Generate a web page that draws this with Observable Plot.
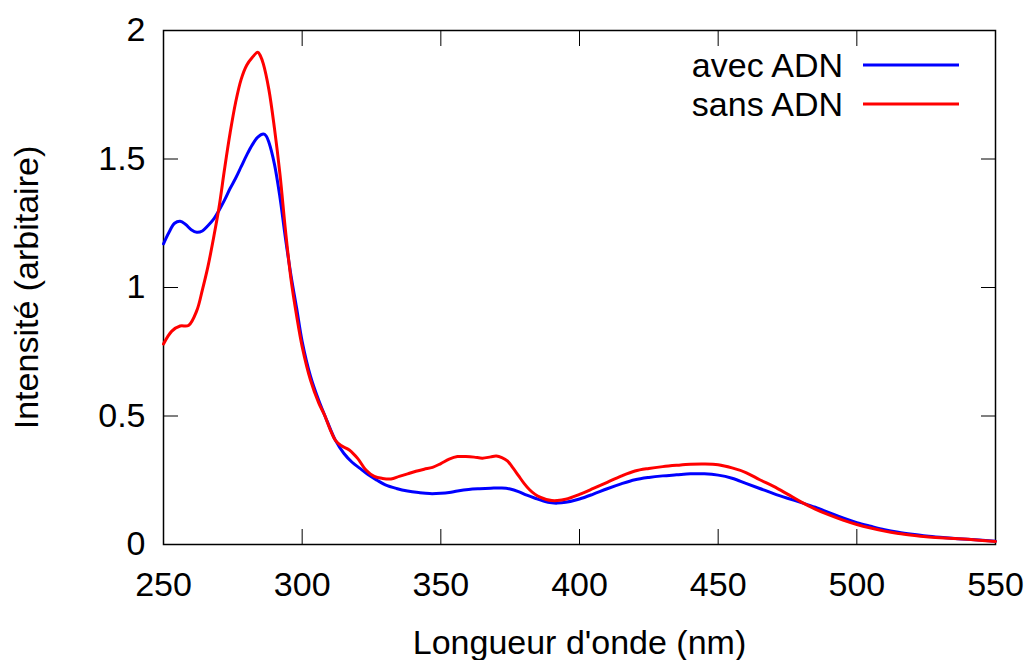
<!DOCTYPE html>
<html><head><meta charset="utf-8">
<script src="https://cdn.jsdelivr.net/npm/d3@7"></script>
<script src="https://cdn.jsdelivr.net/npm/@observablehq/plot@0.6"></script>
<style>
html,body{margin:0;padding:0;background:#fff;}
</style>
</head><body><div id="chart"></div>
<script>
// Wavelengths (nm) and intensities
const wlAvec = [250,252,254,256,258,260,262,264,266,268,270,272,274,276,278,280,282,284,286,287,288,290,292,294,296,298,300,303,306,309,312,315,318,321,324,327,330,334,338,342,346,350,353,356,360,364,368,372,375,378,381,384,387,390,392,395,400,405,410,415,420,425,430,435,440,445,450,455,460,465,470,475,480,485,490,495,500,505,510,515,520,525,530,540,550];
const avec = [1.17,1.215,1.25,1.258,1.245,1.225,1.215,1.22,1.24,1.265,1.30,1.34,1.385,1.425,1.47,1.515,1.555,1.585,1.597,1.59,1.565,1.48,1.35,1.19,1.045,0.92,0.79,0.655,0.56,0.48,0.405,0.355,0.32,0.295,0.27,0.25,0.232,0.218,0.208,0.202,0.198,0.199,0.202,0.208,0.214,0.217,0.219,0.220,0.216,0.206,0.192,0.18,0.169,0.162,0.161,0.164,0.177,0.196,0.217,0.236,0.252,0.261,0.267,0.271,0.275,0.275,0.270,0.258,0.238,0.218,0.198,0.180,0.163,0.145,0.124,0.103,0.085,0.071,0.058,0.048,0.040,0.033,0.028,0.020,0.013];

const wlSans = [250,253,256,259,262,264,266,268,270,272,274,276,278,280,282,284,285,286,288,290,292,294,296,298,300,303,306,308,310,312,314,317,320,323,326,329,332,335,338,341,344,347,350,353,356,359,362,365,368,370,372,374,376,378,380,382,384,386,388,390,392,395,400,405,410,415,420,425,430,435,440,445,450,455,460,465,470,475,480,485,490,495,500,505,510,515,520,525,530,540,550];
const sans = [0.78,0.83,0.85,0.852,0.91,0.99,1.08,1.19,1.31,1.46,1.60,1.72,1.81,1.865,1.895,1.915,1.90,1.87,1.77,1.62,1.44,1.22,1.03,0.89,0.77,0.64,0.55,0.505,0.45,0.405,0.385,0.368,0.335,0.29,0.265,0.257,0.255,0.265,0.275,0.285,0.293,0.300,0.315,0.332,0.342,0.342,0.340,0.336,0.341,0.344,0.338,0.325,0.298,0.268,0.238,0.213,0.195,0.183,0.175,0.171,0.171,0.176,0.195,0.218,0.242,0.266,0.286,0.296,0.303,0.308,0.312,0.313,0.310,0.298,0.280,0.252,0.226,0.196,0.165,0.138,0.115,0.095,0.078,0.064,0.052,0.043,0.036,0.030,0.026,0.020,0.012];

const xTicks = [250,300,350,400,450,500,550];
const yTicks = [0,0.5,1,1.5,2];
const seriesNames = ["avec ADN","sans ADN"];
const seriesColors = ["#0000ff","#ff0000"];
const xLabel = "Longueur d'onde (nm)";
const yLabel = "Intensité (arbitaire)";

const avecData = wlAvec.map((w,i)=>({wl:w, v:avec[i]}));
const sansData = wlSans.map((w,i)=>({wl:w, v:sans[i]}));
const FONT = "'Liberation Sans', Arial, sans-serif";

const plot = Plot.plot({
  width: 1028, height: 660,
  marginLeft: 163, marginRight: 33, marginTop: 30, marginBottom: 116,
  style: {fontFamily: FONT, fontSize: "34px", background: "#fff", color: "#000"},
  x: {domain: [250, 550]},
  y: {domain: [0, 2]},
  marks: [
    Plot.axisX({anchor: "bottom", ticks: xTicks, tickSize: -15, fill: "none", label: null}),
    Plot.axisX({anchor: "top", ticks: xTicks, tickSize: -15, fill: "none", label: null}),
    Plot.axisY({anchor: "left", ticks: yTicks, tickSize: -15, fill: "none", label: null}),
    Plot.axisY({anchor: "right", ticks: yTicks, tickSize: -15, fill: "none", label: null}),
    Plot.frame({stroke: "#000", strokeWidth: 1.5}),
    Plot.line(avecData, {x: "wl", y: "v", stroke: seriesColors[0], strokeWidth: 3, curve: "catmull-rom"}),
    Plot.line(sansData, {x: "wl", y: "v", stroke: seriesColors[1], strokeWidth: 3, curve: "catmull-rom"}),
    Plot.axisX({anchor: "bottom", ticks: xTicks, tickSize: 0, tickPadding: 27, tickFormat: d => String(d),
      label: xLabel, labelAnchor: "center", labelArrow: "none", labelOffset: 109}),
    Plot.axisY({anchor: "left", ticks: yTicks, tickSize: 0, tickPadding: 18, tickFormat: d => String(d),
      label: yLabel, labelAnchor: "center", labelArrow: "none", labelOffset: 150})
  ]
});
document.getElementById("chart").appendChild(plot);

// Legend inside the plot (top right), gnuplot style
const svg = d3.select(plot);
const lg = svg.append("g").attr("font-family", FONT).attr("font-size", 34);
seriesNames.forEach((name, i) => {
  lg.append("text").attr("x", 843).attr("y", 77 + i * 39).attr("text-anchor", "end").attr("fill", "#000").text(name);
  lg.append("line").attr("x1", 863).attr("x2", 959).attr("y1", 65 + i * 39).attr("y2", 65 + i * 39)
    .attr("stroke", seriesColors[i]).attr("stroke-width", 3);
});
</script>
</body></html>
